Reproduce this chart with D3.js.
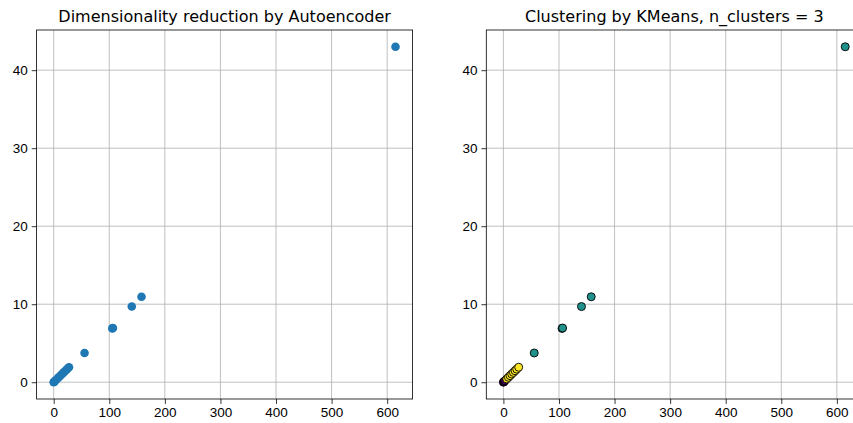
<!DOCTYPE html>
<html>
<head>
<meta charset="utf-8">
<script src="https://cdn.jsdelivr.net/npm/d3@7"></script>
<style>
  body { margin: 0; background: #fff; }
  svg { display: block; font-family: "DejaVu Sans", sans-serif; }
  .title { font-size: 16px; fill: #000; }
  .axis text { font-size: 13.5px; fill: #000; }
  .axis path, .axis line { stroke: #000; stroke-width: 0.8; }
  .grid line { stroke: #b0b0b0; stroke-width: 0.8; }
</style>
</head>
<body>
<div id="chart"></div>
<script>
// data
const pointX = [0, 1, 2.5, 6, 9, 12, 15, 18, 21, 24, 27.5, 55.5, 105.5, 106.5, 140.5, 158, 615];
const pointY = [0, 0.07, 0.17, 0.42, 0.63, 0.84, 1.05, 1.26, 1.47, 1.68, 1.92, 3.75, 6.9, 6.95, 9.7, 10.95, 43];
const clusterLabel = [0, 0, 0, 2, 2, 2, 2, 2, 2, 2, 2, 1, 1, 1, 1, 1, 1];
const clusterColors = ["#440154", "#21918c", "#fde725"];
const xTicks = [0, 100, 200, 300, 400, 500, 600];
const yTicks = [0, 10, 20, 30, 40];
const titles = ["Dimensionality reduction by Autoencoder", "Clustering by KMeans, n_clusters = 3"];

const svgWidth = 853, svgHeight = 423;
const panelTop = 30, panelBottom = 399, panelWidth = 376;
const panelLefts = [36.6, 486.3];

const data = pointX.map((x, i) => ({ x: x, y: pointY[i], c: clusterLabel[i] }));

// matplotlib style 5% margins
function padded(ext) {
  const m = (ext[1] - ext[0]) * 0.05;
  return [ext[0] - m, ext[1] + m];
}
const xDomain = padded(d3.extent(pointX));
const yDomain = padded(d3.extent(pointY));

const svg = d3.select("#chart").append("svg")
  .attr("width", svgWidth)
  .attr("height", svgHeight);

panelLefts.forEach(function (left, p) {
  const x = d3.scaleLinear().domain(xDomain).range([left, left + panelWidth]);
  const y = d3.scaleLinear().domain(yDomain).range([panelBottom, panelTop]);
  const g = svg.append("g");

  // grid
  const grid = g.append("g").attr("class", "grid");
  grid.selectAll(".gx").data(xTicks).enter().append("line")
    .attr("x1", d => x(d)).attr("x2", d => x(d))
    .attr("y1", panelTop).attr("y2", panelBottom);
  grid.selectAll(".gy").data(yTicks).enter().append("line")
    .attr("x1", left).attr("x2", left + panelWidth)
    .attr("y1", d => y(d)).attr("y2", d => y(d));

  // points
  g.selectAll("circle").data(data).enter().append("circle")
    .attr("cx", d => x(d.x))
    .attr("cy", d => y(d.y))
    .attr("r", p === 0 ? 4.3 : 4)
    .attr("fill", d => p === 0 ? "#1f77b4" : clusterColors[d.c])
    .attr("stroke", p === 0 ? "none" : "#000")
    .attr("stroke-width", 0.9);

  // frame
  g.append("rect")
    .attr("x", left).attr("y", panelTop)
    .attr("width", panelWidth).attr("height", panelBottom - panelTop)
    .attr("fill", "none").attr("stroke", "#000").attr("stroke-width", 0.8);

  // axes
  g.append("g").attr("class", "axis")
    .attr("transform", "translate(0," + panelBottom + ")")
    .call(d3.axisBottom(x).tickValues(xTicks).tickSize(4.9).tickPadding(4).tickFormat(d3.format("d")))
    .call(a => a.select(".domain").remove());
  g.append("g").attr("class", "axis")
    .attr("transform", "translate(" + left + ",0)")
    .call(d3.axisLeft(y).tickValues(yTicks).tickSize(4.9).tickPadding(4).tickFormat(d3.format("d")))
    .call(a => a.select(".domain").remove());

  g.append("text")
    .attr("class", "title")
    .attr("x", left + panelWidth / 2)
    .attr("y", panelTop - 8.5)
    .attr("text-anchor", "middle")
    .text(titles[p]);
});
</script>
</body>
</html>
